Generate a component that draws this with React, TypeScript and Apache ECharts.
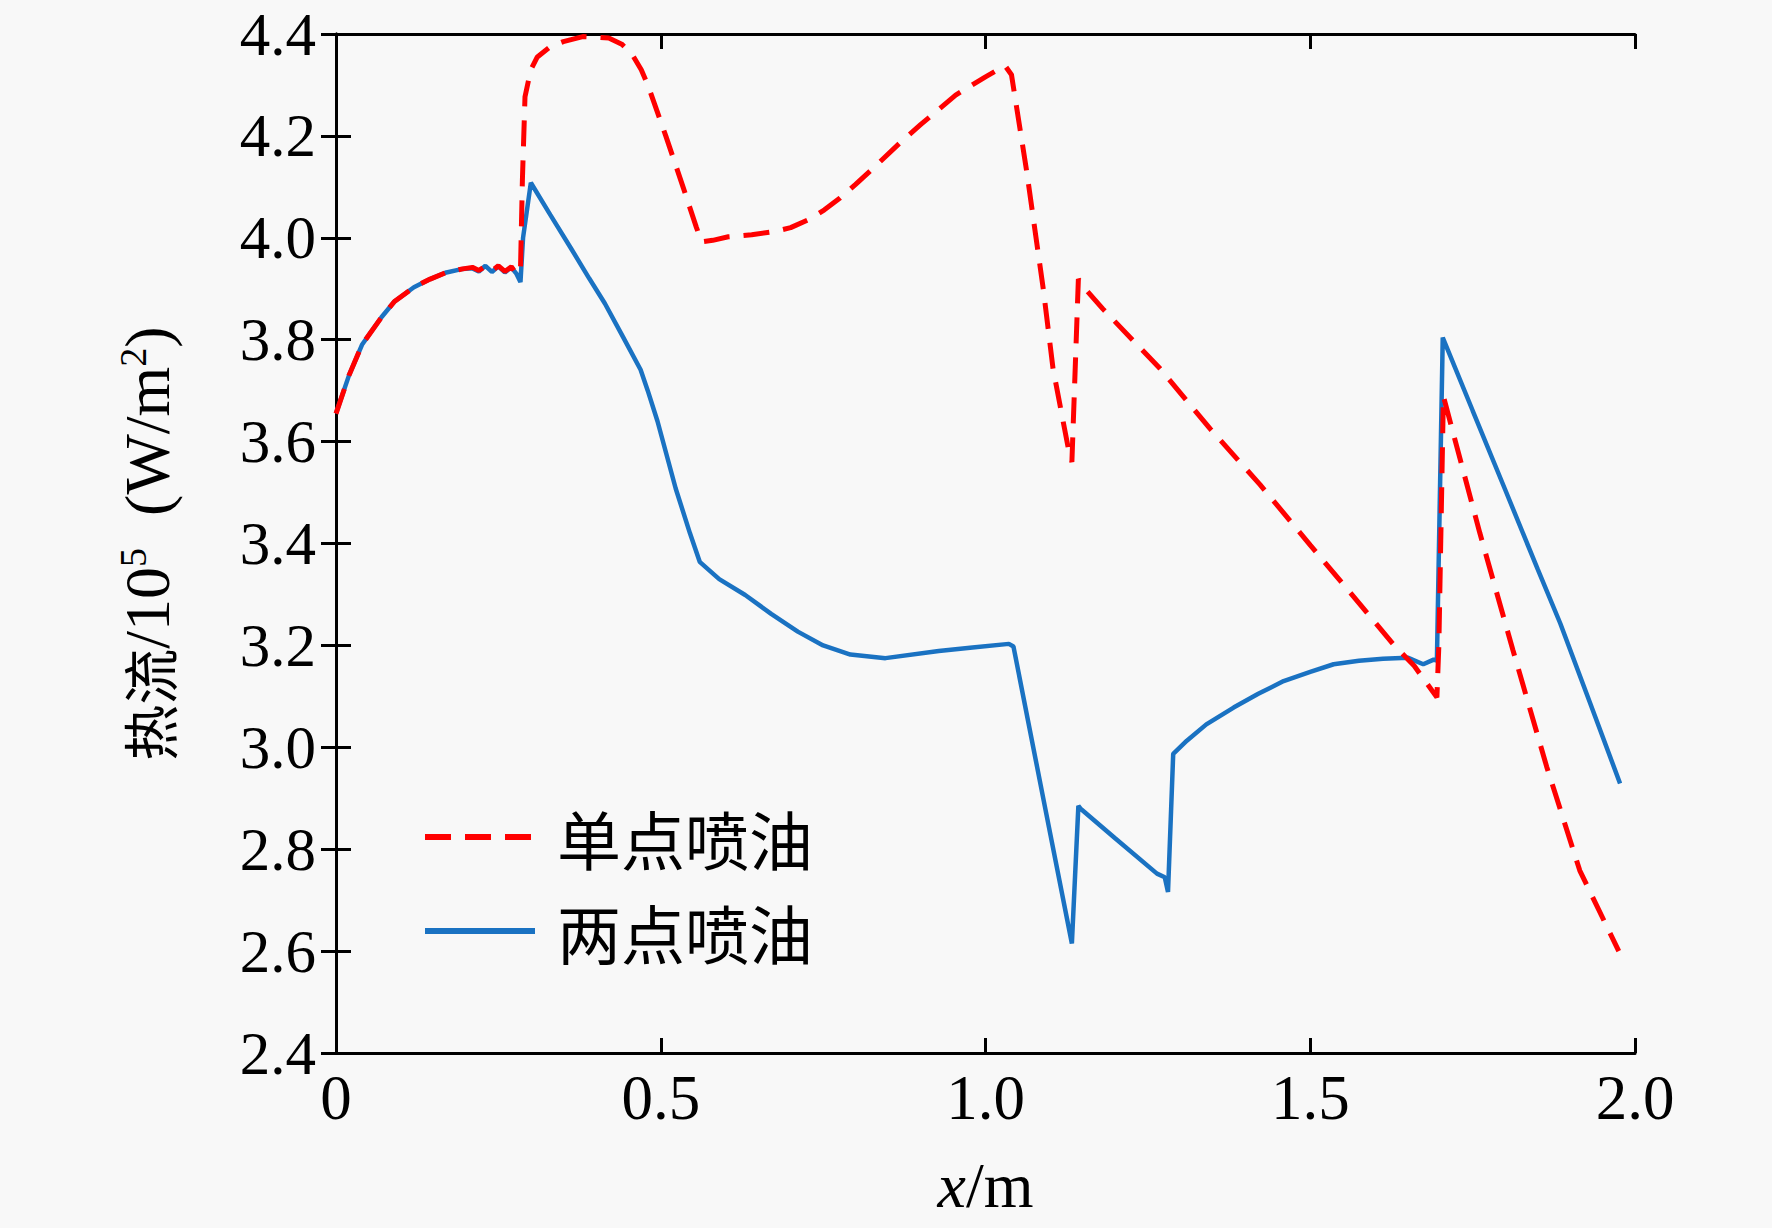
import React, { useEffect, useRef } from "react";
import * as echarts from "echarts";

// 单点喷油 (red dashed)
const singleX = [0, 0.02, 0.04, 0.07, 0.09, 0.12, 0.145, 0.17, 0.195, 0.21, 0.22, 0.23, 0.24, 0.25, 0.26, 0.27, 0.278, 0.284, 0.287, 0.291, 0.3, 0.31, 0.33, 0.35, 0.38, 0.42, 0.44, 0.455, 0.47, 0.481, 0.508, 0.534, 0.555, 0.563, 0.58, 0.604, 0.64, 0.674, 0.7, 0.728, 0.752, 0.776, 0.8, 0.83, 0.868, 0.9, 0.954, 1.0, 1.03, 1.04, 1.063, 1.089, 1.104, 1.13, 1.133, 1.143, 1.15, 1.181, 1.269, 1.346, 1.423, 1.5, 1.577, 1.628, 1.66, 1.695, 1.698, 1.705, 1.72, 1.761, 1.812, 1.864, 1.915, 1.975];
const singleY = [3.655, 3.73, 3.79, 3.844, 3.875, 3.903, 3.919, 3.932, 3.939, 3.942, 3.936, 3.944, 3.935, 3.945, 3.934, 3.943, 3.929, 3.935, 4.114, 4.277, 4.33, 4.355, 4.375, 4.385, 4.395, 4.392, 4.38, 4.362, 4.33, 4.297, 4.199, 4.101, 4.02, 3.992, 3.995, 4.002, 4.006, 4.012, 4.02, 4.036, 4.055, 4.078, 4.105, 4.14, 4.186, 4.222, 4.28, 4.316, 4.338, 4.32, 4.134, 3.899, 3.743, 3.57, 3.56, 3.919, 3.905, 3.86, 3.743, 3.625, 3.515, 3.397, 3.28, 3.202, 3.16, 3.098, 3.2, 3.689, 3.617, 3.421, 3.191, 2.962, 2.758, 2.6];

// 两点喷油 (blue solid)
const doubleX = [0, 0.02, 0.04, 0.07, 0.09, 0.12, 0.145, 0.17, 0.195, 0.21, 0.22, 0.23, 0.24, 0.25, 0.26, 0.27, 0.278, 0.284, 0.288, 0.3, 0.33, 0.361, 0.39, 0.414, 0.44, 0.469, 0.48, 0.495, 0.523, 0.545, 0.56, 0.59, 0.63, 0.67, 0.711, 0.75, 0.792, 0.846, 0.928, 0.98, 1.036, 1.043, 1.09, 1.133, 1.143, 1.146, 1.2, 1.264, 1.276, 1.281, 1.289, 1.31, 1.34, 1.382, 1.42, 1.459, 1.5, 1.536, 1.575, 1.612, 1.65, 1.674, 1.69, 1.695, 1.704, 1.75, 1.8, 1.85, 1.885, 1.93, 1.977];
const doubleY = [3.655, 3.73, 3.79, 3.844, 3.875, 3.903, 3.919, 3.932, 3.939, 3.94, 3.934, 3.945, 3.933, 3.944, 3.932, 3.942, 3.929, 3.913, 4.0, 4.108, 4.045, 3.981, 3.92, 3.871, 3.81, 3.741, 3.7, 3.64, 3.508, 3.42, 3.364, 3.33, 3.299, 3.262, 3.227, 3.2, 3.182, 3.175, 3.189, 3.196, 3.203, 3.198, 2.893, 2.615, 2.885, 2.88, 2.821, 2.752, 2.745, 2.716, 2.987, 3.013, 3.045, 3.078, 3.105, 3.13, 3.148, 3.163, 3.17, 3.174, 3.176, 3.163, 3.172, 3.17, 3.804, 3.661, 3.506, 3.35, 3.243, 3.09, 2.929];

const xTicks = ["0", "0.5", "1.0", "1.5", "2.0"];
const seriesNames = ["单点喷油", "两点喷油"];

const SERIF = "'Liberation Serif', 'Times New Roman', serif";
const CJK = "'Noto Sans CJK SC', sans-serif";

export default function App() {
  const ref = useRef<HTMLDivElement>(null);
  useEffect(() => {
    document.body.style.margin = "0";
    const chart = echarts.init(ref.current!, null, { renderer: "svg" });
    const axisLine = { show: true, lineStyle: { color: "#000", width: 3 } };
    const axisTick = { show: true, inside: true, length: 15, lineStyle: { color: "#000", width: 3 } };
    const option = {
      animation: false,
      backgroundColor: "#f8f8f8",
      grid: { left: 336, right: 137, top: 34, bottom: 175, containLabel: false },
      legend: {
        orient: "vertical",
        left: 417,
        top: 794,
        data: seriesNames,
        itemWidth: 110,
        itemHeight: 20,
        itemGap: 18,
        itemStyle: { opacity: 0 },
        lineStyle: { width: 6 },
        textStyle: { fontFamily: CJK, fontSize: 64, color: "#000", lineHeight: 76, padding: [0, 0, 0, 17] },
      },
      xAxis: [
        {
          type: "value",
          min: 0,
          max: 2,
          interval: 0.5,
          position: "bottom",
          axisLine,
          axisTick,
          splitLine: { show: false },
          axisLabel: {
            color: "#000",
            fontFamily: SERIF,
            fontSize: 63,
            lineHeight: 50,
            margin: 20,
            formatter: (v: number) => xTicks[Math.round(v / 0.5)],
          },
          name: "{i|x}{t|/m}",
          nameLocation: "middle",
          nameGap: 100,
          nameTextStyle: {
            rich: {
              i: { fontFamily: SERIF, fontSize: 64, fontStyle: "italic", color: "#000" },
              t: { fontFamily: SERIF, fontSize: 64, color: "#000" },
            },
          },
        },
        {
          type: "value",
          min: 0,
          max: 2,
          interval: 0.5,
          position: "top",
          axisLine,
          axisTick,
          splitLine: { show: false },
          axisLabel: { show: false },
        },
      ],
      yAxis: [
        {
          type: "value",
          min: 2.4,
          max: 4.4,
          interval: 0.2,
          position: "left",
          axisLine,
          axisTick,
          splitLine: { show: false },
          axisLabel: {
            color: "#000",
            fontFamily: SERIF,
            fontSize: 61,
            lineHeight: 48,
            margin: 20,
            formatter: (v: number) => v.toFixed(1),
          },
          name: "{c|热流}{t|/10}{s|5}{t|  (W/m}{s|2}{t|)}",
          nameLocation: "middle",
          nameRotate: 90,
          nameGap: 156,
          nameTextStyle: {
            rich: {
              c: { fontFamily: CJK, fontSize: 56, color: "#000", lineHeight: 66 },
              t: { fontFamily: SERIF, fontSize: 64, color: "#000", lineHeight: 66 },
              s: { fontFamily: SERIF, fontSize: 38, color: "#000", verticalAlign: "top", lineHeight: 38 },
            },
          },
        },
        {
          type: "value",
          min: 2.4,
          max: 4.4,
          interval: 0.2,
          position: "right",
          axisLine,
          axisTick,
          splitLine: { show: false },
          axisLabel: { show: false },
        },
      ],
      series: [
        {
          name: seriesNames[1],
          type: "line",
          xAxisIndex: 0,
          yAxisIndex: 0,
          symbol: "none",
          showSymbol: false,
          data: doubleX.map((x, i) => [x, doubleY[i]]),
          lineStyle: { color: "#1a72c2", width: 4.5, type: "solid" },
          itemStyle: { color: "#1a72c2" },
          z: 2,
        },
        {
          name: seriesNames[0],
          type: "line",
          xAxisIndex: 0,
          yAxisIndex: 0,
          symbol: "none",
          showSymbol: false,
          data: singleX.map((x, i) => [x, singleY[i]]),
          lineStyle: { color: "#ff0000", width: 5, type: [26, 14] },
          itemStyle: { color: "#ff0000" },
          z: 3,
        },
      ],
    };
    chart.setOption(option as any);
    return () => chart.dispose();
  }, []);
  return (
    <div
      ref={ref}
      style={{ position: "absolute", left: 0, top: 0, width: 1772, height: 1228, background: "#f8f8f8" }}
    />
  );
}
